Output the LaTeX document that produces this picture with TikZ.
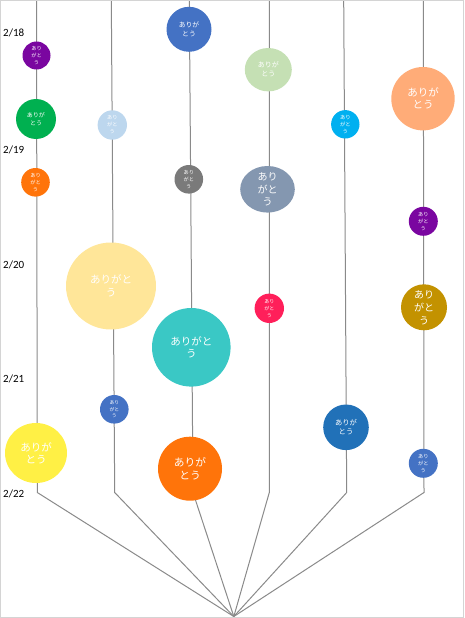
\documentclass[tikz,border=0pt]{standalone}
\usepackage{fontspec}
\setmainfont{Carlito}
\newfontfamily\jp{Noto Sans CJK JP}
\usetikzlibrary{shapes.geometric,backgrounds}
\definecolor{cpurple}{HTML}{7A06A0}
\definecolor{cgreen}{HTML}{00B050}
\definecolor{corange}{HTML}{FF740A}
\definecolor{cyellow}{HTML}{FFF045}
\definecolor{clblue}{HTML}{BDD7EE}
\definecolor{clyellow}{HTML}{FFE699}
\definecolor{cblue}{HTML}{4472C4}
\definecolor{cgray}{HTML}{7A7A7A}
\definecolor{cteal}{HTML}{3AC8C5}
\definecolor{clgreen}{HTML}{C5E0B4}
\definecolor{cgblue}{HTML}{8497B0}
\definecolor{cpink}{HTML}{FF1F5A}
\definecolor{ccyan}{HTML}{00B0F0}
\definecolor{cblue2}{HTML}{2171B8}
\definecolor{csalmon}{HTML}{FFAC78}
\definecolor{cgold}{HTML}{C39200}
\definecolor{linegray}{HTML}{8A8A8A}
\definecolor{framegray}{HTML}{D4D4D4}
\tikzset{
  bub/.style={ellipse, fill=#1, draw=none, inner sep=0pt, outer sep=0pt},
  dia/.style={minimum width=#1, minimum height=#1},
  tsz/.style 2 args={text=white, align=center, inner sep=0pt, font=\jp\fontsize{#1}{#2}\selectfont},
  track/.style={draw=linegray, line width=1pt},
  datelbl/.style={anchor=base west, inner sep=0pt, font=\fontsize{11}{13}\selectfont}
}
\begin{document}
\begin{tikzpicture}[x=1pt, y=-1pt]
\useasboundingbox (0,0) rectangle (464,618);
% column 1
\node[bub=cpurple, dia=28pt, label={[tsz={5.2}{7}]center:{あり\\がと\\う}}] (p1) at (36.5,55.5) {};
\node[bub=cgreen, dia=40pt, label={[tsz={6}{8}]center:{ありが\\とう}}] (p2) at (36,119) {};
\node[bub=corange, dia=28.6pt, label={[tsz={5.2}{7}]center:{あり\\がと\\う}}] (p3) at (35.5,182.3) {};
\node[bub=cyellow, minimum width=62pt, minimum height=60pt, label={[tsz={10.5}{12}]center:{ありが\\とう}}] (p4) at (36,453) {};
% column 2
\node[bub=clblue, dia=29.4pt, label={[tsz={5.2}{7}]center:{あり\\がと\\う}}] (q1) at (112.3,125) {};
\node[bub=clyellow, minimum width=90pt, minimum height=87pt, label={[tsz={10.5}{12.7}]center:{ありがと\\う}}] (q2) at (111,286) {};
\node[bub=cblue, dia=28.6pt, label={[tsz={4.8}{6.8}]center:{あり\\がと\\う}}] (q3) at (114.3,409.3) {};
% column 3
\node[bub=cblue, dia=45pt, label={[tsz={6.8}{8.7}]center:{ありが\\とう}}] (r1) at (189,29.3) {};
\node[bub=cgray, dia=28.6pt, label={[tsz={5.2}{7}]center:{あり\\がと\\う}}] (r2) at (188.8,179.3) {};
\node[bub=cteal, dia=78.6pt, label={[tsz={10.5}{12.7}]center:{ありがと\\う}}] (r3) at (191.3,347.3) {};
\node[bub=corange, dia=64pt, label={[tsz={10.7}{12.7}]center:{ありが\\とう}}] (r4) at (190,468.7) {};
% column 4
\node[bub=clgreen, minimum width=47pt, minimum height=43.4pt, label={[tsz={7}{9}]center:{ありが\\とう}}] (s1) at (268.3,69.7) {};
\node[bub=cgblue, minimum width=54.6pt, minimum height=46.6pt, label={[tsz={10}{12.7}]center:{あり\\がと\\う}}] (s2) at (267.5,189.3) {};
\node[bub=cpink, dia=29.4pt, label={[tsz={5}{7}]center:{あり\\がと\\う}}] (s3) at (269.3,308.3) {};
% column 5
\node[bub=ccyan, dia=28.4pt, label={[tsz={5.3}{7}]center:{あり\\がと\\う}}] (u1) at (345.3,124.3) {};
\node[bub=cblue2, dia=45.6pt, label={[tsz={7.3}{9.3}]center:{ありが\\とう}}] (u2) at (346,427.3) {};
% column 6
\node[bub=csalmon, dia=63.4pt, label={[tsz={10.5}{12}]center:{ありが\\とう}}] (v1) at (423,98.7) {};
\node[bub=cpurple, dia=29pt, label={[tsz={5.2}{7}]center:{あり\\がと\\う}}] (v2) at (423.3,221.3) {};
\node[bub=cgold, dia=46pt, label={[tsz={10}{13}]center:{あり\\がと\\う}}] (v3) at (424,307.3) {};
\node[bub=cblue, dia=29pt, label={[tsz={5.2}{7}]center:{あり\\がと\\う}}] (v4) at (423.3,463.3) {};
% dates
\node[datelbl] (d18) at (3,37) {2/18};
\node[datelbl] (d19) at (3,153) {2/19};
\node[datelbl] (d20) at (3,268) {2/20};
\node[datelbl] (d21) at (3,382) {2/21};
\node[datelbl] (d22) at (3,497) {2/22};
% track coordinates
\coordinate (t1) at (36.5,0);   \coordinate (b1) at (37.3,492.5);
\coordinate (t2) at (111.3,0);  \coordinate (b2) at (114.7,492.5);
\coordinate (t3) at (189.3,0);  \coordinate (b3) at (193,492.5);
\coordinate (t4) at (269.3,0);  \coordinate (b4) at (269.3,492.5);
\coordinate (t5) at (343.7,0);  \coordinate (b5) at (346.7,492.5);
\coordinate (t6) at (423.3,0);  \coordinate (b6) at (424,492.5);
\coordinate (hub) at (233.8,616.5);
\begin{scope}[on background layer]
\draw[track] (t1) -- (b1) -- (hub);
\draw[track] (t2) -- (b2) -- (hub);
\draw[track] (t3) -- (b3) -- (hub);
\draw[track] (t4) -- (b4) -- (hub);
\draw[track] (t5) -- (b5) -- (hub);
\draw[track] (t6) -- (b6) -- (hub);
\end{scope}
\draw[framegray, line width=1pt] (0.5,0.5) rectangle (463.5,617.5);
\end{tikzpicture}
\end{document}
